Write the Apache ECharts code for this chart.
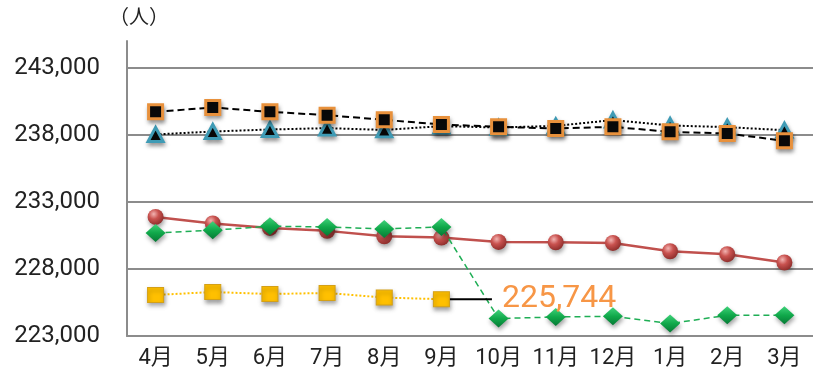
<!DOCTYPE html>
<html>
<head>
<meta charset="utf-8">
<script src="https://cdn.jsdelivr.net/npm/echarts@6/dist/echarts.min.js"></script>
<style>
  html, body { margin: 0; padding: 0; background: #fff; }
  #chart { width: 813px; height: 377px; }
</style>
</head>
<body>
<div id="chart"></div>
<script>
// Monthly population figures (persons), April through March
const months = ['4月', '5月', '6月', '7月', '8月', '9月', '10月', '11月', '12月', '1月', '2月', '3月'];

const seriesTriangle = [238030, 238250, 238400, 238500, 238370, 238650, 238550, 238670, 239100, 238700, 238575, 238350];
const seriesSquare   = [239716, 240045, 239716, 239470, 239119, 238776, 238597, 238478, 238597, 238224, 238104, 237552];
const seriesRed      = [231880, 231390, 231060, 230840, 230440, 230340, 230015, 229990, 229940, 229320, 229100, 228480];
const seriesGreen    = [230690, 230890, 231190, 231130, 230985, 231130, 224300, 224420, 224470, 223925, 224545, 224545];
const seriesYellow   = [226060, 226280, 226130, 226210, 225865, 225744, null, null, null, null, null, null];

// Value axis range
const yMin = 223000;
const yMax = 245000;
const yStep = 5000;

const FONT = "Roboto, 'Noto Sans CJK JP', sans-serif";
const fmt = v => Number(v).toLocaleString('en-US');

const shadow = { shadowBlur: 4, shadowColor: 'rgba(0,0,0,0.35)', shadowOffsetX: 1, shadowOffsetY: 3 };

const chart = echarts.init(document.getElementById('chart'), null, { renderer: 'canvas' });

chart.setOption({
  animation: false,
  backgroundColor: '#ffffff',
  grid: { left: 127, right: -5, top: 41, bottom: 41, containLabel: false },
  xAxis: {
    type: 'category',
    data: months,
    boundaryGap: true,
    axisLine: { show: true, lineStyle: { color: '#8c8c8c', width: 2 } },
    axisTick: { show: false },
    axisLabel: { interval: 0, color: '#222', fontFamily: FONT, fontSize: 22, margin: 11 }
  },
  yAxis: {
    type: 'value',
    min: yMin,
    max: yMax,
    interval: yStep,
    name: '（人）',
    nameLocation: 'end',
    nameGap: 12,
    nameTextStyle: { color: '#222', fontFamily: FONT, fontSize: 20, align: 'center', padding: [0, 0, 0, 24] },
    axisLine: { show: true, lineStyle: { color: '#8c8c8c', width: 2 } },
    axisTick: { show: false },
    axisLabel: {
      color: '#222', fontFamily: FONT, fontSize: 24, margin: 27,
      showMaxLabel: false,
      formatter: v => (v % yStep === (yMin % yStep) ? fmt(v) : '')
    },
    splitLine: { show: true, showMinLine: false, showMaxLine: false, lineStyle: { color: '#8c8c8c', width: 2 } }
  },
  series: [
    {
      name: 'triangle',
      type: 'line',
      data: seriesTriangle,
      symbol: 'triangle',
      symbolSize: [15, 14],
      lineStyle: { color: '#000', width: 2, type: [2, 2] },
      itemStyle: Object.assign({ color: '#0a0a0a', borderColor: '#3f9bb5', borderWidth: 3 }, shadow),
      z: 2
    },
    {
      name: 'square',
      type: 'line',
      data: seriesSquare,
      symbol: 'rect',
      symbolSize: 14,
      lineStyle: { color: '#000', width: 2, type: [7, 4] },
      itemStyle: Object.assign({ color: '#0a0a0a', borderColor: '#e8913c', borderWidth: 3 }, shadow),
      z: 3
    },
    {
      name: 'red',
      type: 'line',
      data: seriesRed,
      symbol: 'circle',
      symbolSize: 16,
      lineStyle: { color: '#c0504d', width: 2.5 },
      itemStyle: Object.assign({
        color: new echarts.graphic.RadialGradient(0.38, 0.32, 0.7, [
          { offset: 0, color: '#f2b3b1' },
          { offset: 0.45, color: '#c9524f' },
          { offset: 1, color: '#8f2e2c' }
        ]),
        borderWidth: 0
      }, shadow),
      z: 4
    },
    {
      name: 'green',
      type: 'line',
      data: seriesGreen,
      symbol: 'diamond',
      symbolSize: [20, 18],
      lineStyle: { color: '#1fae55', width: 1.5, type: [6, 4] },
      itemStyle: Object.assign({
        color: new echarts.graphic.LinearGradient(0, 0, 0, 1, [
          { offset: 0, color: '#3fd27a' },
          { offset: 0.5, color: '#10a84a' },
          { offset: 1, color: '#067a35' }
        ]),
        borderWidth: 0
      }, shadow),
      z: 5
    },
    {
      name: 'yellow',
      type: 'line',
      data: seriesYellow.map((v, i) => (i === 5 ? {
        value: v,
        label: {
          show: true,
          position: 'right',
          distance: 0,
          formatter: p => '{lead|}{num|' + fmt(p.value) + '}',
          rich: {
            lead: { width: 42, height: 2, backgroundColor: '#000', verticalAlign: 'middle' },
            num: {
              color: '#f79646', fontFamily: FONT, fontSize: 32,
              padding: [0, 0, 0, 10], verticalAlign: 'middle'
            }
          }
        }
      } : v)),
      symbol: 'rect',
      symbolSize: [16, 15],
      connectNulls: false,
      lineStyle: { color: '#ffc000', width: 2, type: [2, 2] },
      itemStyle: Object.assign({ color: '#ffc000', borderColor: '#d4a017', borderWidth: 1 }, shadow),
      z: 6
    }
  ]
});
</script>
</body>
</html>
